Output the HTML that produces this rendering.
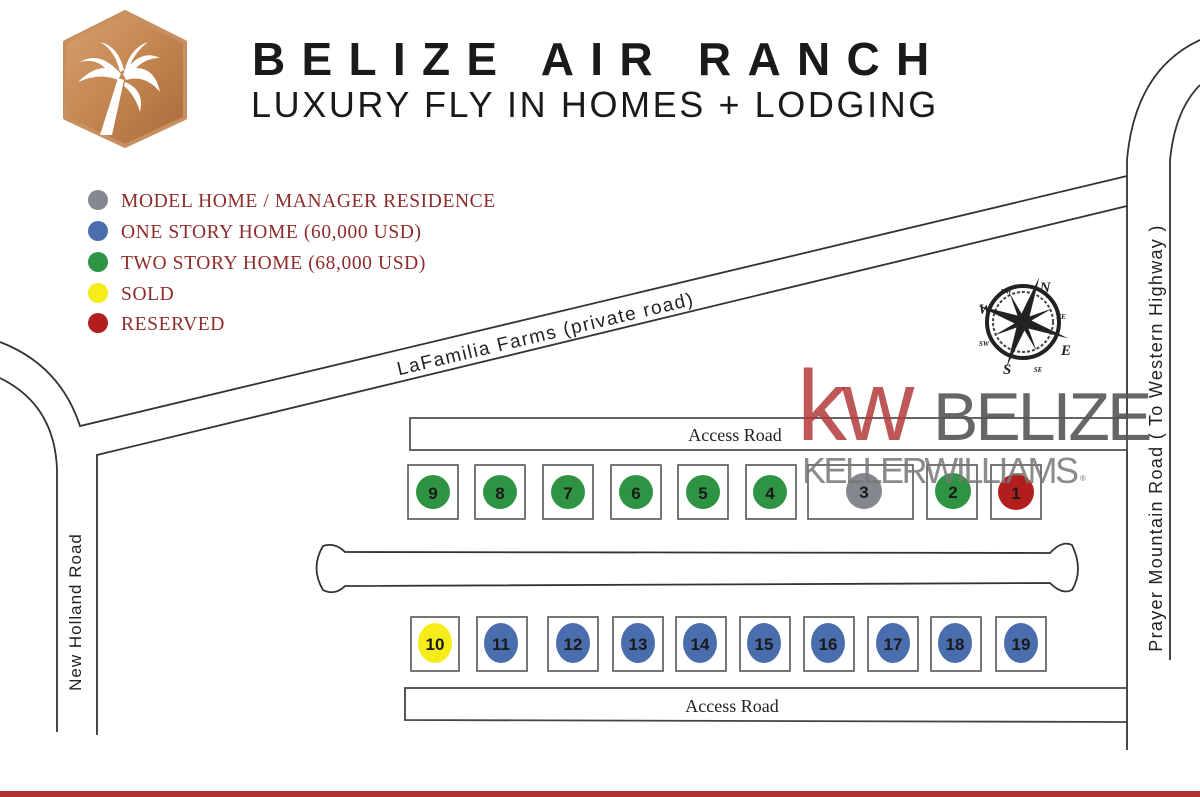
<!DOCTYPE html>
<html><head><meta charset="utf-8"><style>
html,body{margin:0;padding:0;background:#fff;width:1200px;height:797px;overflow:hidden}
svg{display:block}
</style></head><body>
<svg width="1200" height="797" viewBox="0 0 1200 797" xmlns="http://www.w3.org/2000/svg" font-family="Liberation Sans, sans-serif">
<defs>
<linearGradient id="g" x1="0" y1="0" x2="1" y2="1"><stop offset="0" stop-color="#d8a070"/><stop offset="0.5" stop-color="#c38650"/><stop offset="1" stop-color="#a86a38"/></linearGradient>
</defs>
<path d="M125 12 L185 42 L185 118 L125 146 L65 118 L65 42 Z" fill="url(#g)" stroke="#c89060" stroke-width="4" stroke-linejoin="round"/>
<g fill="#fff">
<path d="M118 78 Q108 110 100 135 L112 135 Q118 108 124 80 Z"/>
<path d="M121 74 Q100 50 80 62 Q95 58 105 68 Q92 68 78 82 Q100 72 118 80 Z"/>
<path d="M123 74 Q140 48 160 58 Q146 58 136 68 Q155 68 160 92 Q145 74 126 80 Z"/>
<path d="M120 72 Q115 50 100 42 Q118 46 124 70 Z"/>
<path d="M124 72 Q130 48 148 42 Q132 54 127 74 Z"/>
<path d="M125 82 Q145 90 140 112 Q135 95 124 86 Z"/>
</g>
<text x="252" y="75" font-size="46" font-weight="bold" letter-spacing="16.3" fill="#1a1a1a">BELIZE AIR RANCH</text>
<text x="251" y="117" font-size="36" letter-spacing="2.6" fill="#1a1a1a">LUXURY FLY IN HOMES  + LODGING</text>
<g font-size="19.5" letter-spacing="0.6" fill="#8e2b2b" font-family="Liberation Serif, serif">
<circle cx="98" cy="200" r="10" fill="#848890"/><text x="121" y="207">MODEL HOME / MANAGER RESIDENCE</text>
<circle cx="98" cy="231" r="10" fill="#4a6ead"/><text x="121" y="238">ONE STORY HOME (60,000 USD)</text>
<circle cx="98" cy="262" r="10" fill="#2e9444"/><text x="121" y="269">TWO STORY HOME (68,000 USD)</text>
<circle cx="98" cy="293" r="10" fill="#f5ec1a"/><text x="121" y="300">SOLD</text>
<circle cx="98" cy="323" r="10" fill="#b21e1e"/><text x="121" y="330">RESERVED</text>
</g>
<g fill="none" stroke="#333" stroke-width="1.8">
<path d="M0 342 Q60 365 80 426 L1127 176"/>
<path d="M0 378 Q55 405 57 470 L57 732"/>
<path d="M97 735 L97 455 L1127 206"/>
<path d="M1127 750 L1127 160 Q1135 70 1200 40"/>
<path d="M1170 660 L1170 160 Q1175 110 1200 85"/>
<rect x="410" y="418" width="717" height="32" stroke="#555"/>
<path d="M1127 688 L405 688 L405 720 L1127 722" stroke="#444"/>
<path d="M345 552 L1050 553 Q1062 540 1072 545 Q1084 570 1072 590 Q1062 595 1050 583 L345 586 Q335 596 323 590 Q310 568 323 546 Q335 542 345 552 Z"/>
</g>
<text transform="translate(547,340) rotate(-13.4)" text-anchor="middle" font-size="19" letter-spacing="1.5" fill="#222">LaFamilia Farms (private road)</text>
<text x="735" y="441" text-anchor="middle" font-size="18" fill="#222" font-family="Liberation Serif, serif">Access Road</text>
<text x="732" y="712" text-anchor="middle" font-size="18" fill="#222" font-family="Liberation Serif, serif">Access Road</text>
<text transform="translate(81,612) rotate(-90)" text-anchor="middle" font-size="17" letter-spacing="1" fill="#222">New Holland Road</text>
<text transform="translate(1162,438) rotate(-90)" text-anchor="middle" font-size="18" letter-spacing="1.3" fill="#222">Prayer Mountain Road   ( To Western Highway )</text>
<g stroke="#555" stroke-width="1.6" fill="none">
<rect x="408" y="465" width="50" height="54"/><rect x="475" y="465" width="50" height="54"/><rect x="543" y="465" width="50" height="54"/><rect x="611" y="465" width="50" height="54"/><rect x="678" y="465" width="50" height="54"/><rect x="746" y="465" width="50" height="54"/><rect x="808" y="465" width="105" height="54"/><rect x="927" y="465" width="50" height="54"/><rect x="991" y="465" width="50" height="54"/>
<rect x="411" y="617" width="48" height="54"/><rect x="477" y="617" width="50" height="54"/><rect x="548" y="617" width="50" height="54"/><rect x="613" y="617" width="50" height="54"/><rect x="676" y="617" width="50" height="54"/><rect x="740" y="617" width="50" height="54"/><rect x="804" y="617" width="50" height="54"/><rect x="868" y="617" width="50" height="54"/><rect x="931" y="617" width="50" height="54"/><rect x="996" y="617" width="50" height="54"/>
</g>
<g font-size="17" font-weight="bold" fill="#1a1a1a" text-anchor="middle">
<circle cx="433" cy="492" r="17" fill="#2e9444"/><text x="433" y="499">9</text>
<circle cx="500" cy="492" r="17" fill="#2e9444"/><text x="500" y="499">8</text>
<circle cx="568" cy="492" r="17" fill="#2e9444"/><text x="568" y="499">7</text>
<circle cx="636" cy="492" r="17" fill="#2e9444"/><text x="636" y="499">6</text>
<circle cx="703" cy="492" r="17" fill="#2e9444"/><text x="703" y="499">5</text>
<circle cx="770" cy="492" r="17" fill="#2e9444"/><text x="770" y="499">4</text>
<circle cx="864" cy="491" r="18" fill="#84888e"/><text x="864" y="498">3</text>
<circle cx="953" cy="491" r="18" fill="#2e9444"/><text x="953" y="498">2</text>
<circle cx="1016" cy="492" r="18" fill="#b21e1e"/><text x="1016" y="499">1</text>
<ellipse cx="435" cy="643" rx="17" ry="20" fill="#f5ec1a"/><text x="435" y="650">10</text>
<ellipse cx="501" cy="643" rx="17" ry="20" fill="#4a6ead"/><text x="501" y="650">11</text>
<ellipse cx="573" cy="643" rx="17" ry="20" fill="#4a6ead"/><text x="573" y="650">12</text>
<ellipse cx="638" cy="643" rx="17" ry="20" fill="#4a6ead"/><text x="638" y="650">13</text>
<ellipse cx="700" cy="643" rx="17" ry="20" fill="#4a6ead"/><text x="700" y="650">14</text>
<ellipse cx="764" cy="643" rx="17" ry="20" fill="#4a6ead"/><text x="764" y="650">15</text>
<ellipse cx="828" cy="643" rx="17" ry="20" fill="#4a6ead"/><text x="828" y="650">16</text>
<ellipse cx="893" cy="643" rx="17" ry="20" fill="#4a6ead"/><text x="893" y="650">17</text>
<ellipse cx="955" cy="643" rx="17" ry="20" fill="#4a6ead"/><text x="955" y="650">18</text>
<ellipse cx="1021" cy="643" rx="17" ry="20" fill="#4a6ead"/><text x="1021" y="650">19</text>
</g>
<g transform="translate(1023,322)">
<circle r="36" fill="none" stroke="#222" stroke-width="4"/>
<circle r="30" fill="none" stroke="#444" stroke-width="2" stroke-dasharray="3 2"/>
<g fill="#222"><path d="M0 -48 L5 0 L0 48 L-5 0 Z" transform="rotate(20)"/><path d="M-48 0 L0 5 L48 0 L0 -5 Z" transform="rotate(20)"/><path d="M0 -32 L3 0 L0 32 L-3 0 Z" transform="rotate(65)"/><path d="M0 -32 L3 0 L0 32 L-3 0 Z" transform="rotate(-25)"/></g>
<g font-family="Liberation Serif, serif" font-style="italic" font-weight="bold" fill="#222" text-anchor="middle">
<text x="22" y="-30" font-size="15">N</text><text x="-38" y="-8" font-size="15">W</text><text x="43" y="33" font-size="15">E</text><text x="-16" y="52" font-size="15">S</text>
<text x="-17" y="-28" font-size="7">NW</text><text x="38" y="-3" font-size="7">NE</text><text x="-39" y="24" font-size="7">SW</text><text x="15" y="50" font-size="7">SE</text></g>
</g>
<text x="797" y="440" font-size="100" fill="#b33a3a" fill-opacity="0.85" letter-spacing="-5">kw</text>
<text x="933" y="440" font-size="68" fill="#555" fill-opacity="0.9" letter-spacing="-3">BELIZE</text>
<text x="802" y="483" font-size="36" fill="#777" fill-opacity="0.85" letter-spacing="-2.5">KELLERWILLIAMS</text>
<text x="1080" y="481" font-size="8" fill="#777">®</text>
<rect x="0" y="791" width="1200" height="6" fill="#b33030"/>
</svg>
</body></html>
